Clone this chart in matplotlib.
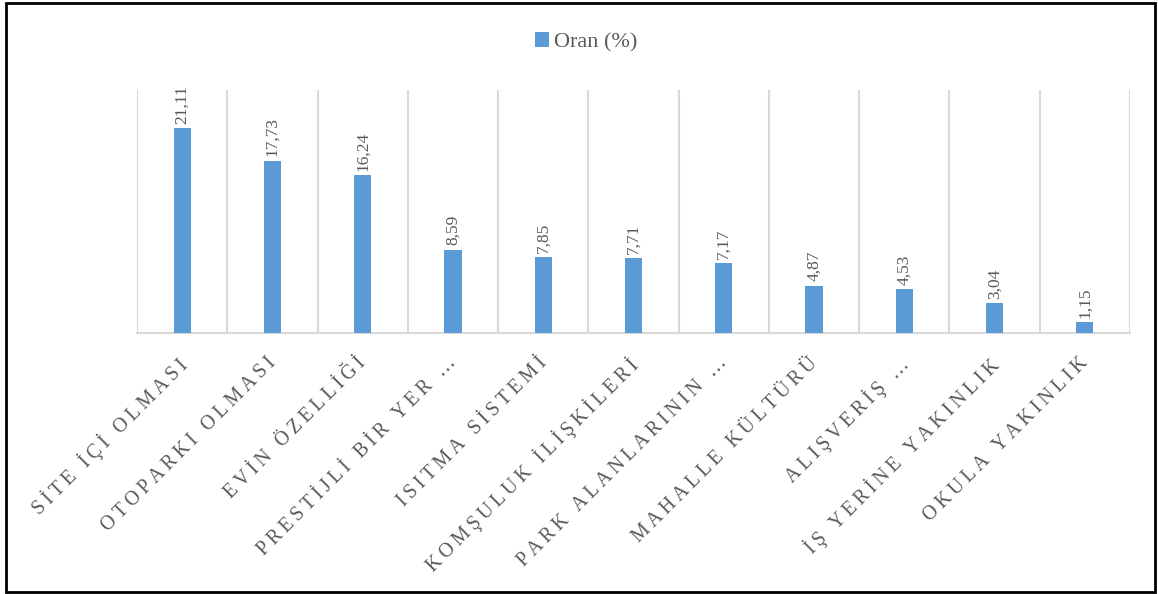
import matplotlib.pyplot as plt
from matplotlib.patches import Rectangle
from matplotlib.transforms import ScaledTranslation

categories = [
    "SİTE İÇİ OLMASI",
    "OTOPARKI OLMASI",
    "EVİN ÖZELLİĞİ",
    "PRESTİJLİ BİR YER …",
    "ISITMA SİSTEMİ",
    "KOMŞULUK İLİŞKİLERİ",
    "PARK ALANLARININ …",
    "MAHALLE KÜLTÜRÜ",
    "ALIŞVERİŞ …",
    "İŞ YERİNE YAKINLIK",
    "OKULA YAKINLIK",
]
values = [21.11, 17.73, 16.24, 8.59, 7.85, 7.71, 7.17, 4.87, 4.53, 3.04, 1.15]
series_name = "Oran (%)"

BLUE = "#5B9BD5"
GRAY_TEXT = "#595959"
GRID = "#D9D9D9"

plt.rcParams["font.family"] = ["Liberation Serif", "DejaVu Serif"]


def spaced(text, sep="\u2009"):
    # widen the letter spacing
    return sep.join(text)


W, H = 1158, 594
fig = plt.figure(figsize=(W / 100, H / 100), dpi=100)
ax = fig.add_axes([137 / W, 1 - 333 / H, (1130 - 137) / W, (333 - 90) / H])

x = list(range(len(categories)))
bars = ax.bar(x, values, width=0.19, color=BLUE, label=series_name, zorder=3)

# category separators
ax.vlines([i - 0.5 for i in range(len(categories) + 1)], 0, 25,
          color=GRID, lw=1.5, zorder=1)

for xi, v in zip(x, values):
    ax.annotate(f"{v:.2f}".replace(".", ","), (xi, v),
                xytext=(0, 3), textcoords="offset points", rotation=90,
                ha="center", va="bottom", fontsize=12.5, color=GRAY_TEXT)

ax.set_xlim(-0.5, len(categories) - 0.5)
ax.set_ylim(0, 25)
ax.set_yticks([])
ax.set_xticks(x)
ax.set_xticklabels([spaced(c) for c in categories], rotation=45,
                   ha="right", rotation_mode="anchor", fontsize=14.3,
                   color=GRAY_TEXT)
ax.tick_params(axis="x", length=0, pad=15)
shift = ScaledTranslation(-6 / 100, 0, fig.dpi_scale_trans)
for lbl in ax.get_xticklabels():
    lbl.set_transform(lbl.get_transform() + shift)
for side in ["top", "left", "right"]:
    ax.spines[side].set_visible(False)
ax.spines["bottom"].set_color(GRID)
ax.spines["bottom"].set_linewidth(1.5)

leg = fig.legend(handles=[bars], labels=[series_name], loc="center",
                 bbox_to_anchor=(586 / W, 1 - 42 / H), frameon=False,
                 fontsize=16, handlelength=0.65, handleheight=0.65,
                 handletextpad=0.2)
for t in leg.get_texts():
    t.set_color(GRAY_TEXT)

fig.patches.append(Rectangle((6 / W, 2 / H), (1155 - 6) / W, (591 - 2) / H,
                             transform=fig.transFigure, fill=False,
                             edgecolor="black", lw=2))

fig.savefig("out.png", dpi=100)
